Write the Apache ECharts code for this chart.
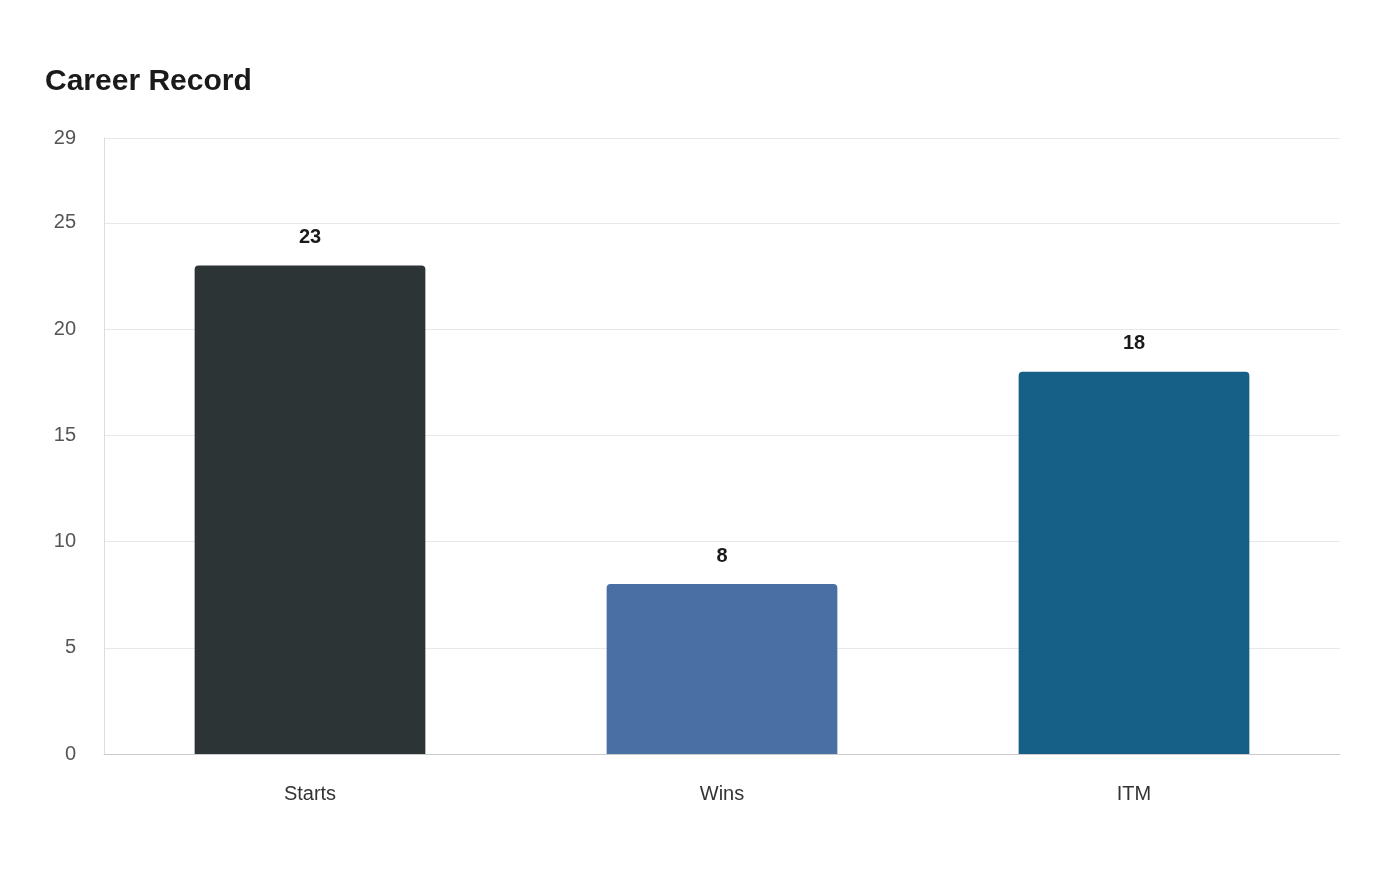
<!DOCTYPE html>
<html><head><meta charset="utf-8">
<script src="https://cdn.jsdelivr.net/npm/echarts@6/dist/echarts.min.js"></script>
<style>html,body{margin:0;background:#fff}#c{width:1400px;height:880px}</style>
</head><body><div id="c"></div>
<script>
const categories = ["Starts", "Wins", "ITM"];
const values = [23, 8, 18];
const colors = ["#2d3436", "#4a6fa5", "#166088"];
const chart = echarts.init(document.getElementById('c'));
chart.setOption({
  backgroundColor: '#fff',
  title: { text: 'Career Record', left: 40, top: 62, textStyle: { fontFamily: 'Liberation Sans, Arial', fontSize: 30, fontWeight: 'bold', color: '#1a1a1a' } },
  grid: { left: 104, right: 60, top: 138, bottom: 126 },
  xAxis: { type: 'category', data: categories,
    axisLine: { lineStyle: { color: '#cccccc' } }, axisTick: { show: false },
    axisLabel: { color: '#333', fontSize: 20, margin: 30, fontFamily: 'Liberation Sans, Arial' } },
  yAxis: { type: 'value', min: 0, max: 29, interval: 5,
    axisLine: { show: true, lineStyle: { color: '#dddddd' } },
    splitLine: { lineStyle: { color: '#e8e8e8' } },
    axisLabel: { color: '#555', fontSize: 20, margin: 28, fontFamily: 'Liberation Sans, Arial' } },
  series: [{ type: 'bar', barWidth: '56%',
    data: values.map((v, i) => ({ value: v, itemStyle: { color: colors[i], borderRadius: [4, 4, 0, 0] } })),
    label: { show: true, position: 'top', distance: 18, fontSize: 20, fontWeight: 'bold', color: '#1a1a1a', fontFamily: 'Liberation Sans, Arial' } }]
});
</script></body></html>
